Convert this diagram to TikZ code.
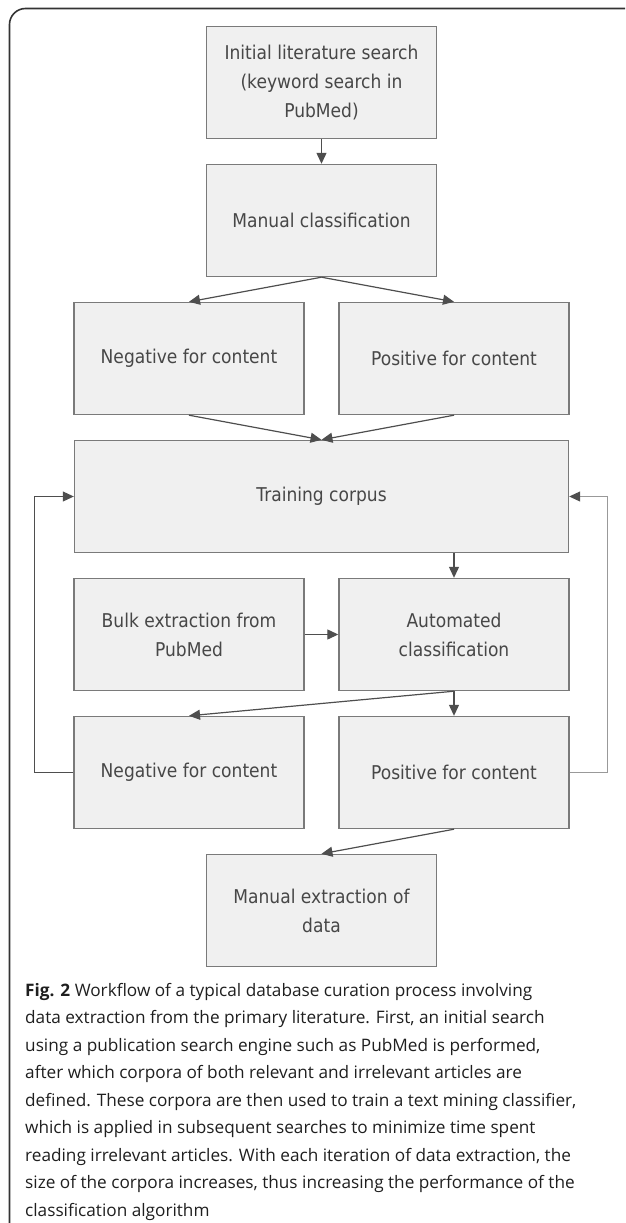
\documentclass[tikz,border=0pt]{standalone}
\usepackage{fontspec}
\setmainfont{Open Sans}
\newfontfamily\boxfont[FakeStretch=0.9]{DejaVu Sans}
\usetikzlibrary{arrows.meta}
\definecolor{fond}{HTML}{F0F0F0}
\definecolor{bord}{HTML}{7A7A7A}
\definecolor{trait}{HTML}{4E4E4E}
\definecolor{texte}{HTML}{474747}

\begin{document}
\begin{tikzpicture}[x=1pt,y=-1pt]
% Styles
\tikzstyle{cadre}=[line width=1.6pt,draw=black!80]
\tikzstyle{boite}=[draw=bord,line width=1.4pt,fill=fond,minimum width=230pt,minimum height=112pt,inner sep=0pt,align=center,text=texte,font=\boxfont\fontsize{19}{29}\selectfont]
\tikzstyle{fleche}=[-{Triangle[length=11pt,width=10pt]},line width=1.2pt,draw=trait]
\tikzstyle{retour}=[-{Triangle[length=11pt,width=10pt,color=trait]},line width=1pt,draw=black!40]
% Dimensions
\def\Gc{189}
\def\Mc{321.5}
\def\Dc{454}
\def\Hz{82.5}
\def\Ht{138}
\useasboundingbox (0,0) rectangle (625,1223);
% Encadrement
\draw[cadre,rounded corners=16pt] (625,8.5) -- (9.5,8.5) -- (9.5,1223);
% Boites
\node[boite] (init) at (\Mc,\Hz) {Initial literature search\\(keyword search in\\PubMed)};
\node[boite] (manu) at (\Mc,\Hz+\Ht) {Manual classification};
\node[boite] (neg1) at (\Gc,\Hz+2*\Ht) {Negative for content};
\node[boite] (pos1) at (\Dc,\Hz+2*\Ht) {Positive for content};
\node[boite,minimum width=494pt] (corpus) at (\Mc,\Hz+3*\Ht) {Training corpus};
\node[boite] (bulk) at (\Gc,\Hz+4*\Ht) {Bulk extraction from\\PubMed};
\node[boite] (auto) at (\Dc,\Hz+4*\Ht) {Automated\\classification};
\node[boite] (neg2) at (\Gc,\Hz+5*\Ht) {Negative for content};
\node[boite] (pos2) at (\Dc,\Hz+5*\Ht) {Positive for content};
\node[boite] (extr) at (\Mc,\Hz+6*\Ht) {Manual extraction of\\data};
% Fleches
\draw[fleche] (init) -- (manu);
\draw[fleche] (manu.south) -- (neg1.north);
\draw[fleche] (manu.south) -- (pos1.north);
\draw[fleche] (neg1.south) -- (corpus.north);
\draw[fleche] (pos1.south) -- (corpus.north);
\draw[fleche] (corpus.south -| auto.north) -- (auto.north);
\draw[fleche] (bulk) -- (auto);
\draw[fleche] (auto.south) -- (neg2.north);
\draw[fleche] (auto.south) -- (pos2.north);
\draw[fleche] (pos2.south) -- (extr.north);
% Boucles
\draw[fleche,line width=1pt] (neg2.west) -- ++(-39,0) |- (corpus.west);
\draw[retour] (pos2.east) -- ++(38,0) |- (corpus.east);
% Legende
\node[anchor=north west,inner sep=0pt,align=left,text=black!88,font=\fontsize{17.2}{27.5}\selectfont] (legende) at (25,983) {\textbf{Fig. 2} Workflow of a typical database curation process involving\\data extraction from the primary literature. First, an initial search\\using a publication search engine such as PubMed is performed,\\after which corpora of both relevant and irrelevant articles are\\defined. These corpora are then used to train a text mining classifier,\\which is applied in subsequent searches to minimize time spent\\reading irrelevant articles. With each iteration of data extraction, the\\size of the corpora increases, thus increasing the performance of the\\classification algorithm};
\end{tikzpicture}
\end{document}
